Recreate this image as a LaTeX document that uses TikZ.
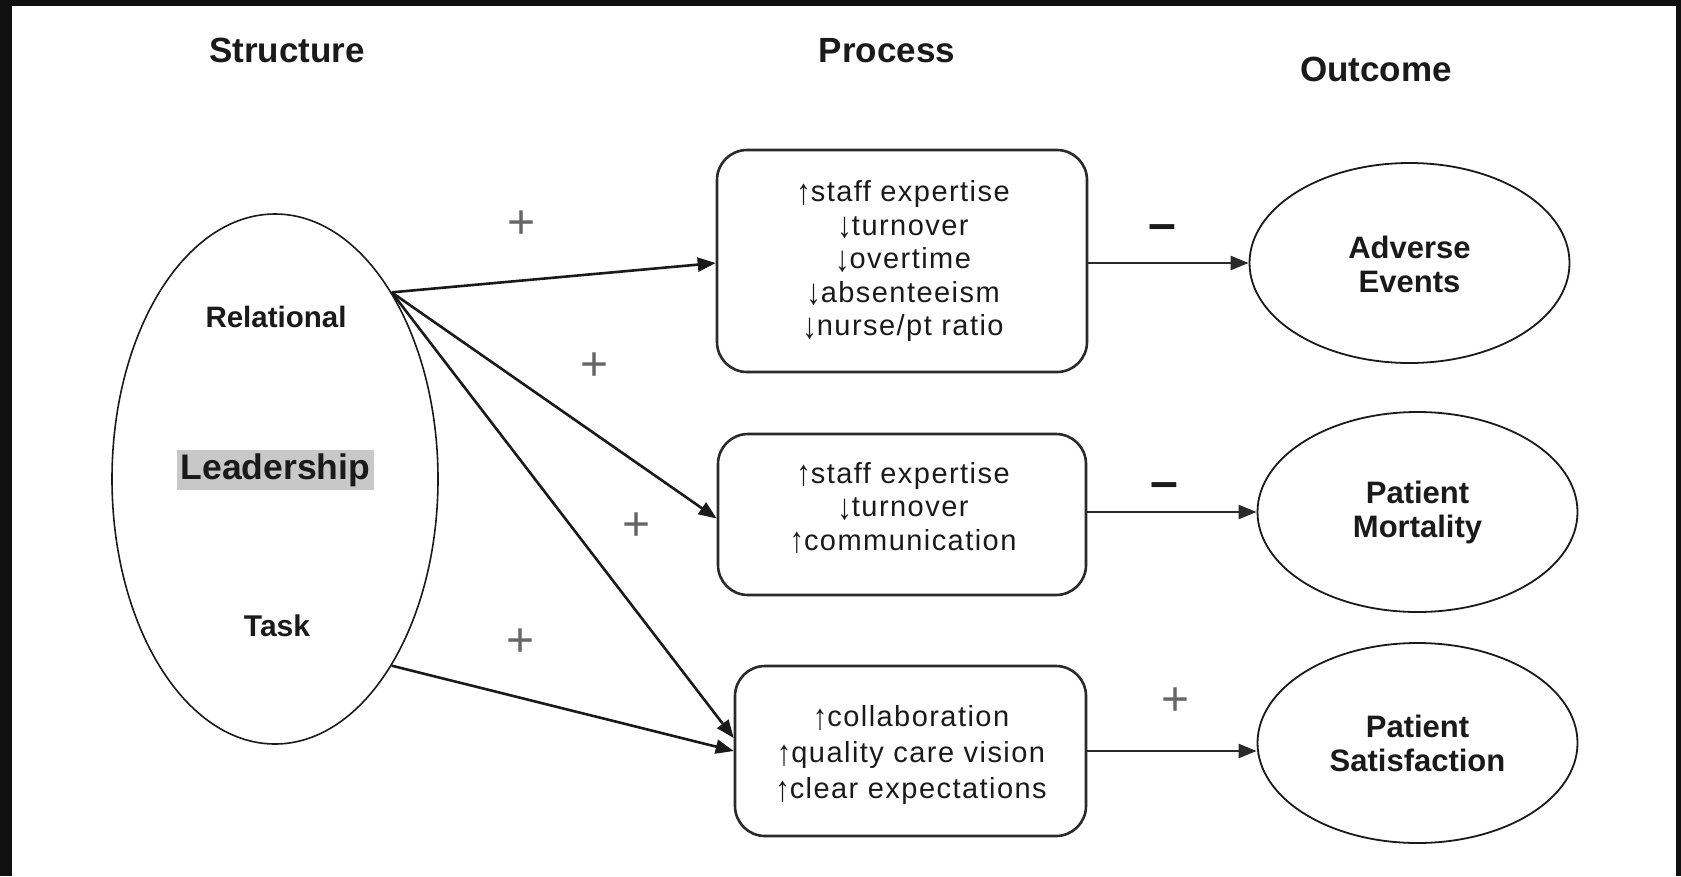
\documentclass[tikz,border=0pt]{standalone}
\usepackage{fontspec}
\setmainfont{Liberation Sans}
\newfontfamily\boxfont[LetterSpace=5]{Liberation Sans}
\usetikzlibrary{arrows.meta,shapes.geometric}
\definecolor{framec}{HTML}{111111}
\definecolor{ink}{HTML}{1A1A1A}
\definecolor{boxc}{HTML}{2A2A2A}
\definecolor{plusc}{HTML}{666666}
\definecolor{hlc}{HTML}{C8C8C8}
\newcommand\uparr{\raisebox{-0.1em}{\scalebox{1}[1.25]{↑}}}
\newcommand\dnarr{\raisebox{-0.1em}{\scalebox{1}[1.25]{↓}}}
\tikzset{
  hdr/.style={font=\bfseries\fontsize{35}{40}\selectfont, text=ink, inner sep=0},
  lbl/.style={font=\bfseries\fontsize{29.5}{34}\selectfont, text=ink, inner sep=0},
  proc/.style={draw=boxc, line width=2.6pt, rounded corners=30pt, rectangle, inner sep=0},
  ptext/.style={font=\boxfont\fontsize{29}{33.5}\selectfont, align=center, text=ink, inner sep=0},
  outc/.style={draw=ink, line width=1.8pt, ellipse, minimum width=320pt, minimum height=200pt, inner sep=0},
  otext/.style={font=\bfseries\fontsize{31}{34}\selectfont, align=center, text=ink, inner sep=0},
  arr/.style={-{Triangle[length=18pt,width=14pt]}, line width=2.6pt, draw=ink},
  sarr/.style={-{Triangle[length=18pt,width=14pt]}, line width=2.4pt, draw=boxc},
  plussign/.style={font=\fontsize{48}{48}\selectfont, text=plusc, inner sep=0},
  minussign/.style={font=\bfseries\fontsize{50}{50}\selectfont, text=ink, inner sep=0}
}
\begin{document}
\begin{tikzpicture}[x=1pt,y=-1pt]
\useasboundingbox (0,0) rectangle (1681,876);
\fill[framec] (0,0) rectangle (1681,876);
\fill[white] (12,6) rectangle (1676,876);

% headers
\node[hdr] (hs) at (287,50) {Structure};
\node[hdr] (hp) at (887,51) {Process};
\node[hdr] (ho) at (1376,69) {Outcome};

% leadership ellipse
\node[ellipse, draw=ink, line width=1.6pt, minimum width=326pt, minimum height=530pt, inner sep=0] (lead) at (275,479) {};
\node[lbl] (rel) at (276,317) {Relational};
\node[font=\bfseries\fontsize{35.5}{40}\selectfont, text=ink, fill=hlc, inner xsep=4pt, inner ysep=3pt] (ldr) at (275.5,470) {Leadership};
\node[lbl, font=\bfseries\fontsize{30}{34}\selectfont] (task) at (277,626) {Task};

% process boxes
\node[proc, minimum width=370pt, minimum height=222pt] (b1) at (902,261) {};
\node[proc, minimum width=368pt, minimum height=161pt] (b2) at (902,514.5) {};
\node[proc, minimum width=351pt, minimum height=170pt] (b3) at (910.5,751) {};
\node[ptext] (t1) at (903,261) {\uparr staff expertise\\\dnarr turnover\\\dnarr overtime\\\dnarr absenteeism\\\dnarr nurse/pt ratio};
\node[ptext] (t2) at (903,508) {\uparr staff expertise\\\dnarr turnover\\\uparr communication};
\node[ptext, font=\boxfont\fontsize{29}{36}\selectfont] (t3) at (911,755) {\uparr collaboration\\\uparr quality care vision\\\uparr clear expectations};

% outcomes
\node[outc] (ae) at (1409.5,263) {};
\node[outc] (pm) at (1417.5,512) {};
\node[outc] (ps) at (1417.5,743) {};
\node[otext] (aet) at (1409.5,264) {Adverse\\Events};
\node[otext] (pmt) at (1417.5,512) {Patient\\Mortality};
\node[otext] (pst) at (1417.5,743) {Patient\\Satisfaction};

% connectors
\coordinate (relp) at (lead.58);
\coordinate (taskp) at (lead.-58);
\draw[arr] (relp) -- ([yshift=-2pt]b1.west);
\draw[arr] (relp) -- ([yshift=-4pt]b2.west);
\draw[arr] (relp) -- ([yshift=13pt]b3.west);
\draw[arr] (taskp) -- (b3.west);
\draw[sarr] (b1.east |- ae.west) -- (ae.west);
\draw[sarr] (b2.east |- pm.west) -- (pm.west);
\draw[sarr] (b3.east) -- (b3.east -| ps.west);

% signs
\node[plussign] (p1) at (522,225) {+};
\node[plussign] (p2) at (595,367) {+};
\node[plussign] (p3) at (637,527) {+};
\node[plussign] (p4) at (521,643) {+};
\node[plussign] (p5) at (1176,702) {+};
\node[minussign] (m1) at (1162,233) {–};
\node[minussign] (m2) at (1164,491) {–};
\end{tikzpicture}
\end{document}
